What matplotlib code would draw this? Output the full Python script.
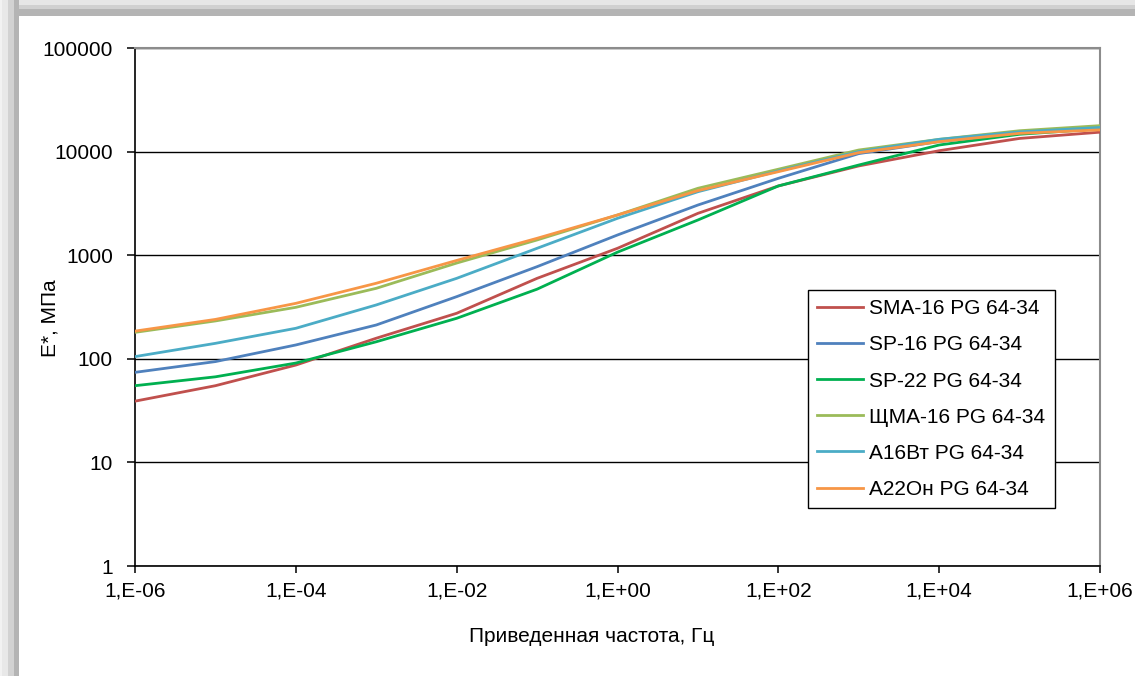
# Dynamic modulus master curves for six mixes (log-log)
import matplotlib.pyplot as plt
from matplotlib.patches import Rectangle
from matplotlib.ticker import FixedLocator, FixedFormatter, NullLocator

plt.rcParams['font.family'] = ['Liberation Sans', 'DejaVu Sans']

# reduced frequency, Hz (one point per decade)
freq = [1e-6, 1e-5, 1e-4, 1e-3, 1e-2, 1e-1, 1e0, 1e1, 1e2, 1e3, 1e4, 1e5, 1e6]

# |E*|, MPa
sma16 = [39, 55, 87, 158, 275, 598, 1166, 2536, 4660, 7270, 10200, 13400, 15400]
sp16 = [74, 94, 136, 212, 398, 775, 1567, 3050, 5520, 9560, 12500, 15000, 16800]
sp22 = [55, 67, 91, 146, 246, 470, 1070, 2187, 4660, 7420, 11580, 14700, 16600]
shma16 = [180, 232, 314, 479, 840, 1403, 2444, 4424, 6760, 10360, 13130, 15900, 17800]
a16vt = [105, 141, 197, 331, 598, 1166, 2270, 4100, 6500, 10000, 13130, 15500, 17100]
a22on = [185, 240, 343, 536, 890, 1456, 2444, 4200, 6400, 9770, 12470, 15000, 16200]

series = [
    ('SMA-16 PG 64-34', sma16, '#C0504D'),
    ('SP-16 PG 64-34', sp16, '#4F81BD'),
    ('SP-22 PG 64-34', sp22, '#00B050'),
    ('ЩМА-16 PG 64-34', shma16, '#9BBB59'),
    ('А16Вт PG 64-34', a16vt, '#4BACC6'),
    ('А22Он PG 64-34', a22on, '#F79646'),
]

x_ticks = [1e-6, 1e-4, 1e-2, 1e0, 1e2, 1e4, 1e6]
x_labels = ['1,E-06', '1,E-04', '1,E-02', '1,E+00', '1,E+02', '1,E+04', '1,E+06']
y_ticks = [1, 10, 100, 1000, 10000, 100000]
y_labels = ['1', '10', '100', '1000', '10000', '100000']

W, H = 1135, 676
fig = plt.figure(figsize=(W / 100, H / 100), dpi=100)

# shaded frame along the left and top edges
for x0, x1, c in [(0, 2, '#f2f2f2'), (2, 8, '#e8e8e8'), (8, 14, '#d2d2d2'), (14, 19, '#b4b4b4')]:
    fig.add_artist(Rectangle((x0 / W, 0), (x1 - x0) / W, 1, transform=fig.transFigure,
                             facecolor=c, edgecolor='none', zorder=0))
for y0, y1, c in [(0, 5, '#e6e6e6'), (5, 9, '#d0d0d0'), (9, 16, '#b4b4b4')]:
    fig.add_artist(Rectangle((19 / W, 1 - y1 / H), 1, (y1 - y0) / H, transform=fig.transFigure,
                             facecolor=c, edgecolor='none', zorder=0))

ax = fig.add_axes([135 / W, 1 - 566 / H, 965 / W, 518 / H])

for label, vals, color in series:
    ax.plot(freq, vals, color=color, lw=2.0, label=label, zorder=3)

ax.set_xscale('log')
ax.set_yscale('log')
ax.set_xlim(1e-6, 1e6)
ax.set_ylim(1, 100000)

ax.xaxis.set_major_locator(FixedLocator(x_ticks))
ax.xaxis.set_major_formatter(FixedFormatter(x_labels))
ax.xaxis.set_minor_locator(NullLocator())
ax.yaxis.set_major_locator(FixedLocator(y_ticks))
ax.yaxis.set_major_formatter(FixedFormatter(y_labels))
ax.yaxis.set_minor_locator(NullLocator())

ax.tick_params(axis='x', direction='out', length=5, width=1.1, pad=6, labelsize=15)
ax.tick_params(axis='y', direction='out', length=6, width=1.1, pad=10, labelsize=15)

ax.grid(axis='y', color='black', lw=1.0, zorder=1)
ax.spines['left'].set_color('black')
ax.spines['bottom'].set_color('black')
ax.spines['left'].set_linewidth(1.2)
ax.spines['bottom'].set_linewidth(1.2)
ax.spines['top'].set_color('#8c8c8c')
ax.spines['right'].set_color('#8c8c8c')
ax.spines['top'].set_linewidth(1.5)
ax.spines['right'].set_linewidth(1.5)

fig.text(50 / W, 1 - 318 / H, 'E*, МПа', rotation=90, ha='center', va='center', fontsize=15)
fig.text(592 / W, 1 - 637 / H, 'Приведенная частота, Гц', ha='center', va='center', fontsize=15)

leg = ax.legend(loc='upper left', bbox_to_anchor=(808 / W, 1 - 290 / H),
                bbox_transform=fig.transFigure, fontsize=15, frameon=True,
                fancybox=False, framealpha=1, edgecolor='black',
                handlelength=2.2, handletextpad=0.3, labelspacing=0.82,
                borderpad=0.45, borderaxespad=0)
leg.get_frame().set_linewidth(1.0)

fig.savefig('out.png', dpi=100)
